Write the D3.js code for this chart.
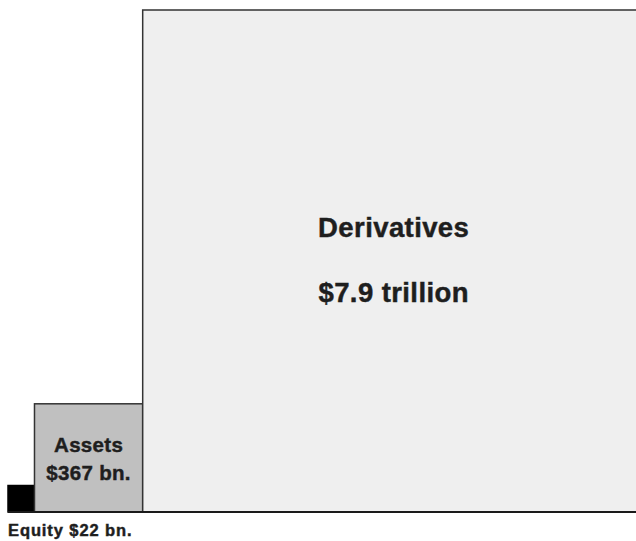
<!DOCTYPE html>
<html>
<head>
<meta charset="utf-8">
<script src="https://cdn.jsdelivr.net/npm/d3@7"></script>
<style>
  html, body { margin: 0; padding: 0; background: #fff; }
  svg { display: block; font-family: "Liberation Sans", Arial, Helvetica, sans-serif; }
</style>
</head>
<body>
<svg id="chart" width="636" height="541"></svg>
<script>
// Values in billions of dollars; each square's area is proportional to its value.
const names = ["Equity", "Assets", "Derivatives"];
const values = [22, 367, 7900];
const labelLines = [
  ["Equity $22 bn."],
  ["Assets", "$367 bn."],
  ["Derivatives", "$7.9 trillion"]
];

const svg = d3.select("#chart");
const baseY = 512;
const startX = 8;

// Side length scales with the square root of the value, so area tracks value.
const side = d3.scaleSqrt().domain([0, d3.max(values)]).range([0, 502]);

const fills = { Equity: "#000000", Assets: "#c0c0c0", Derivatives: "#efefef" };

// Squares sit side by side on a shared baseline.
let x = startX;
const boxes = names.map((n, i) => {
  const s = side(values[i]);
  const b = { name: n, value: values[i], x: x, y: baseY - s, s: s, lines: labelLines[i] };
  x += s;
  return b;
});

svg.selectAll("rect.box")
  .data(boxes)
  .join("rect")
  .attr("class", "box")
  .attr("x", d => d.x)
  .attr("y", d => d.y)
  .attr("width", d => d.s)
  .attr("height", d => d.s)
  .attr("fill", d => fills[d.name])
  .attr("stroke", d => d.name === "Equity" ? "#000" : "#333")
  .attr("stroke-width", 1.5);

// Common baseline
svg.append("line")
  .attr("x1", startX).attr("x2", 636)
  .attr("y1", baseY).attr("y2", baseY)
  .attr("stroke", "#1a1a1a").attr("stroke-width", 2);

const textColor = "#1e1e1e";

// Bold labels get a hairline outline for a heavier face
function heavy(sel) {
  sel.attr("font-weight", "bold")
    .attr("fill", textColor)
    .attr("stroke", textColor)
    .attr("stroke-width", 0.45)
    .attr("paint-order", "stroke");
}

// Derivatives label, centred in its square
const der = boxes[2];
const derCx = der.x + der.s / 2;
svg.append("g")
  .selectAll("text")
  .data(der.lines)
  .join("text")
  .attr("x", derCx)
  .attr("y", (d, i) => [237, 302][i])
  .attr("text-anchor", "middle")
  .attr("font-size", 27.5)
  .attr("letter-spacing", 0.4)
  .call(heavy)
  .text(d => d);

// Assets label, centred horizontally in its square
const ast = boxes[1];
svg.append("g")
  .selectAll("text")
  .data(ast.lines)
  .join("text")
  .attr("x", ast.x + ast.s / 2)
  .attr("y", (d, i) => baseY - [60, 32][i])
  .attr("text-anchor", "middle")
  .attr("font-size", 20.5)
  .attr("letter-spacing", 0.3)
  .call(heavy)
  .text(d => d);

// Equity label beneath the baseline
const eq = boxes[0];
svg.append("text")
  .attr("x", eq.x)
  .attr("y", 536)
  .attr("font-size", 16.5)
  .attr("letter-spacing", 0.9)
  .call(heavy)
  .text(eq.lines[0]);
</script>
</body>
</html>
